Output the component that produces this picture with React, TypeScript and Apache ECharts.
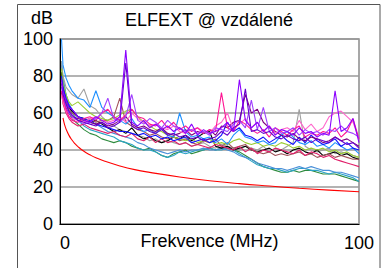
import React, { useEffect, useRef } from "react";
import * as echarts from "echarts";

const freq = [0.5, 1, 2, 3, 4, 6, 8, 10, 12, 14, 16, 18, 20, 22, 24, 26, 28, 30, 32, 34, 36, 38, 40, 42, 44, 46, 48, 50, 52, 54, 56, 58, 60, 62, 64, 66, 68, 70, 72, 74, 76, 78, 80, 82, 84, 86, 88, 90, 92, 94, 96, 98, 100];

const forestGreen = [82,74,65,60,57, 54,51,49,48,46, 45,44,45,44,42, 41,40,41,39,37, 36,38,39,40,38, 39,40,41,40,41, 41,40,39,37,35, 33,31,30,29,28, 28,29,28,29,29, 28,27,27,27,26, 25,24,23];
const teal = [88,79,70,64,60, 56,53,51,50,49, 48,47,45,44,43, 41,40,40,39,37, 36,37,39,38,39, 40,40,41,40,40, 41,40,38,36,34, 32,31,30,30,29, 28,29,30,30,29, 29,28,27,28,27, 26,25,23];
const steelBlue = [86,78,70,65,62, 58,56,55,54,52, 50,49,48,47,46, 44,43,41,40,39, 38,39,40,39,40, 40,41,40,40,41, 40,39,37,36,35, 33,32,31,30,30, 29,30,31,30,31, 30,29,29,28,28, 27,26,25];
const gray = [88,80,74,72,70, 68,73,64,62,58, 55,53,51,50,49, 48,47,45,46,44, 45,44,43,44,42, 43,44,42,41,43, 42,41,40,42,41, 40,42,39,41,40, 42,44,62,42,40, 39,40,41,38,39, 38,37,36];
const black = [82,74,67,63,61, 58,57,55,56,54, 52,50,51,49,52, 48,46,47,45,44, 45,47,46,48,45, 47,49,50,42,41, 42,40,41,42,40, 39,40,41,39,40, 38,40,41,39,38, 40,37,38,39,37, 38,36,35];
const brown = [80,72,66,62,60, 58,56,57,55,56, 56,58,68,55,53, 51,50,48,49,47, 46,47,45,46,44, 43,45,44,46,42, 44,41,42,43,40, 39,38,39,37,38, 37,38,39,37,38, 36,37,38,36,37, 36,35,35];
const yellowGreen = [84,76,70,66,64, 66,63,60,58,57, 56,57,59,61,62, 58,55,53,51,50, 48,47,46,45,46, 44,45,46,43,44, 43,45,46,44,43, 44,42,43,42,44, 43,41,42,40,41, 40,41,39,40,38, 39,37,36];
const crimson = [71,65,60,57,55, 53,54,52,51,50, 49,50,48,47,49, 46,45,47,44,46, 44,45,43,44,42, 43,42,41,43,42, 41,40,42,39,41, 38,40,39,41,40, 39,38,40,37,39, 38,36,37,35,34, 33,32,31];
const dodgerBlue = [100,86,79,75,72, 68,67,63,72,63, 60,58,56,54,57, 52,50,51,49,52, 48,47,60,50,47, 48,46,47,44,46, 43,48,51,47,46, 44,45,43,44,48, 50,47,44,43,45, 42,43,41,44,42, 40,41,38];
const blue = [80,74,68,64,62, 58,57,56,54,53, 52,51,50,50,49, 48,49,47,48,46, 47,45,46,47,44, 45,46,44,45,48, 55,50,52,48,47, 45,47,44,46,48, 45,43,47,44,48, 45,43,44,46,42, 44,41,40];
const purple = [72,68,63,60,58, 57,56,55,54,55, 53,54,56,58,54, 52,53,51,50,52, 49,48,49,51,48, 50,49,51,48,53, 52,55,56,70,60, 62,55,52,50,48, 47,49,46,45,47, 46,44,45,47,45, 46,44,42];
const hotPink = [70,66,61,58,57, 56,55,57,58,56, 55,56,58,55,60, 57,55,53,54,52, 51,53,50,49,51, 52,50,49,53,55, 60,51,54,57,52, 55,50,53,49,51, 52,50,56,51,54, 50,52,58,60,61, 58,55,46];
const deepPink = [72,68,62,58,56, 55,57,58,56,60, 62,58,56,59,62, 58,57,54,53,56, 52,55,51,53,50, 52,49,51,50,71, 52,50,56,54,51, 49,51,47,52,50, 48,51,53,47,49, 48,50,49,52,47, 50,57,46];
const violet = [74,70,64,60,58, 56,54,55,57,60, 68,57,55,58,70, 56,54,57,55,52, 56,53,52,50,51, 49,50,48,52,51, 50,54,56,52,67, 51,63,50,52,49, 50,52,48,51,49, 50,48,51,50,53, 50,49,47];
const indigo = [76,70,65,61,59, 56,55,54,53,55, 52,53,55,87,53, 51,52,50,49,51, 48,49,47,48,46, 47,45,46,47,50, 48,52,54,73,50, 51,49,50,47,46, 48,46,45,47,44, 46,45,44,47,45, 43,44,41];
const darkViolet = [78,72,67,63,62, 58,56,55,58,56, 54,55,58,94,55, 53,56,52,54,51, 53,50,52,49,54, 48,51,49,50,52, 55,50,78,56,52, 55,50,53,48,51, 50,48,52,49,50, 47,49,48,72,50, 52,57,44];

const limitFreq = [1, 1.5, 2, 3, 4, 5, 6, 8, 10, 12, 15, 20, 25, 30, 40, 50, 60, 70, 80, 90, 100];
const limitValues = [57.4, 53.9, 51.4, 47.9, 45.4, 43.4, 41.8, 39.3, 37.4, 35.8, 33.9, 31.4, 29.4, 27.9, 25.4, 23.4, 21.8, 20.5, 19.3, 18.3, 17.4];

const measured: [string, number[], string][] = [
  ["forestGreen", forestGreen, "#2e8b3e"],
  ["teal", teal, "#2aa3c6"],
  ["steelBlue", steelBlue, "#4a90d9"],
  ["gray", gray, "#a0a0a0"],
  ["black", black, "#000000"],
  ["brown", brown, "#a0525a"],
  ["yellowGreen", yellowGreen, "#99cc33"],
  ["crimson", crimson, "#e0206a"],
  ["dodgerBlue", dodgerBlue, "#1e90ff"],
  ["blue", blue, "#1010ff"],
  ["purple", purple, "#800080"],
  ["hotPink", hotPink, "#ff66cc"],
  ["deepPink", deepPink, "#ff1493"],
  ["violet", violet, "#a040ff"],
  ["indigo", indigo, "#6600cc"],
  ["darkViolet", darkViolet, "#8b00ff"],
];

const FONT = "Liberation Sans, Arial, sans-serif";
const FS = 18;

export default function App() {
  const ref = useRef<HTMLDivElement>(null);
  useEffect(() => {
    if (!ref.current) return;
    const chart = echarts.init(ref.current, undefined, { renderer: "svg" });
    const series: any[] = measured.map(([name, vals, color]) => ({
      name,
      type: "line",
      data: freq.map((f, i) => [f, vals[i]]),
      showSymbol: false,
      symbol: "none",
      lineStyle: { color, width: 1.1 },
      itemStyle: { color },
      silent: true,
    }));
    series.push({
      name: "limit",
      type: "line",
      data: limitFreq.map((f, i) => [f, limitValues[i]]),
      showSymbol: false,
      symbol: "none",
      smooth: true,
      lineStyle: { color: "#ff0000", width: 1.1 },
      itemStyle: { color: "#ff0000" },
      silent: true,
    });
    chart.setOption({
      animation: false,
      backgroundColor: "#ffffff",
      textStyle: { fontFamily: FONT },
      grid: {
        left: 60,
        right: 27,
        top: 39,
        bottom: 44,
        show: true,
        borderColor: "#8a8a8a",
        borderWidth: 1.5,
        containLabel: false,
      },
      xAxis: {
        type: "value",
        min: 0,
        max: 100,
        interval: 100,
        name: "Frekvence (MHz)",
        nameLocation: "middle",
        nameGap: 8,
        nameMoveOverlap: false,
        nameTextStyle: { fontSize: FS, color: "#000", fontFamily: FONT, verticalAlign: "top" },
        axisLine: { show: true, lineStyle: { color: "#000", width: 1 } },
        axisTick: { show: false },
        splitLine: { show: false },
        axisLabel: {
          fontSize: FS,
          color: "#000",
          fontFamily: FONT,
          margin: 10,
          alignMinLabel: "left",
          alignMaxLabel: "center",
        },
      },
      yAxis: {
        type: "value",
        min: 0,
        max: 100,
        interval: 20,
        axisLine: { show: true, lineStyle: { color: "#000", width: 1 } },
        axisTick: { show: false },
        splitLine: { show: true, lineStyle: { color: "#9a9a9a", width: 1.5 } },
        axisLabel: { fontSize: FS, color: "#000", fontFamily: FONT, margin: 7 },
      },
      graphic: [
        {
          type: "rect",
          shape: { x: 17.5, y: 4.5, width: 362.5, height: 290 },
          style: { fill: "none", stroke: "#555", lineWidth: 1 },
          silent: true,
        },
        {
          type: "text",
          x: 209,
          y: 11,
          style: {
            text: "ELFEXT @ vzdálené",
            fontSize: FS,
            fontFamily: FONT,
            fill: "#000",
            textAlign: "center",
            textVerticalAlign: "top",
          },
        },
        {
          type: "text",
          x: 53,
          y: 9,
          style: {
            text: "dB",
            fontSize: FS,
            fontFamily: FONT,
            fill: "#000",
            textAlign: "right",
            textVerticalAlign: "top",
          },
        },
      ],
      series,
    });
    return () => chart.dispose();
  }, []);
  return (
    <div
      ref={ref}
      style={{ position: "fixed", left: 0, top: 0, width: 386, height: 268, background: "#fff" }}
    />
  );
}
